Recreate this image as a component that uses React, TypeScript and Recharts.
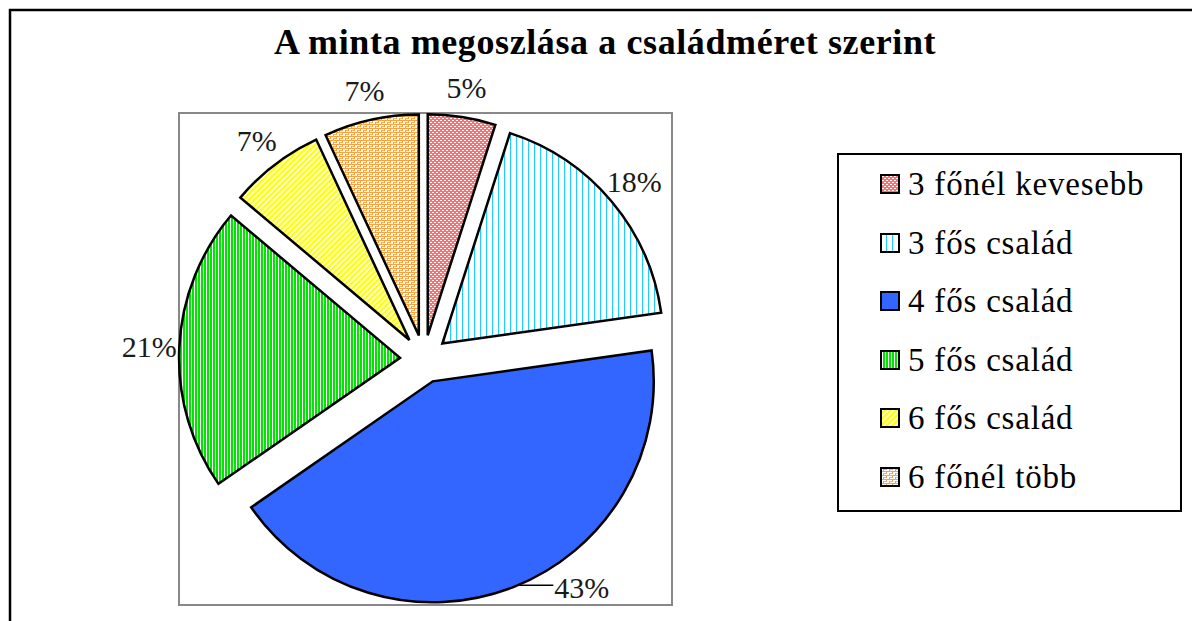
import React from 'react';
import { PieChart, Pie, Cell, Sector, Legend } from 'recharts';

const categories = ['3 főnél kevesebb', '3 fős család', '4 fős család', '5 fős család', '6 fős család', '6 főnél több'];
const shares = [5, 18, 43, 21, 7, 7];
const fills = ['url(#pRed)', 'url(#pCyan)', '#3366FF', 'url(#pGreen)', 'url(#pYellow)', 'url(#pOrange)'];
const titleText = 'A minta megoszlása a családméret szerint';

const data = categories.map((name, i) => ({ name, value: shares[i] }));

const RAD = Math.PI / 180;
const EXPLODE = 24;
const FONT = '"Liberation Serif", "Times New Roman", serif';

const renderSlice = (props: any) => {
  const { cx, cy, outerRadius, startAngle, endAngle, index, value } = props;
  const mid = props.midAngle ?? (startAngle + endAngle) / 2;
  const cos = Math.cos(-mid * RAD);
  const sin = Math.sin(-mid * RAD);
  const ecx = cx + EXPLODE * cos;
  const ecy = cy + EXPLODE * sin;
  const text = `${value}%`;
  let label;
  if (sin > 0.8) {
    const ax = ecx + outerRadius * cos;
    const ay = ecy + outerRadius * sin;
    label = (
      <g>
        <line x1={ax + 6} y1={ay - 2} x2={ax + 40} y2={ay - 2} stroke="#000" strokeWidth={1.5} />
        <text x={ax + 41} y={ay} textAnchor="start" dominantBaseline="central" fontFamily={FONT} fontSize={30} fill="#1a1a1a">
          {text}
        </text>
      </g>
    );
  } else {
    const lx = ecx + (outerRadius + 30) * cos;
    const ly = ecy + (outerRadius + 30) * sin;
    label = (
      <text x={lx} y={ly} textAnchor="middle" dominantBaseline="central" fontFamily={FONT} fontSize={30} fill="#1a1a1a">
        {text}
      </text>
    );
  }
  return (
    <g key={`slice-${index}`}>
      <Sector
        cx={ecx}
        cy={ecy}
        innerRadius={0}
        outerRadius={outerRadius}
        startAngle={startAngle}
        endAngle={endAngle}
        fill={fills[index]}
        fillOpacity={1}
        stroke="#000"
        strokeOpacity={1}
        strokeWidth={2.5}
        strokeLinejoin="miter"
      />
      {label}
    </g>
  );
};

const renderLegend = (props: any) => {
  const payload = [...(props.payload || [])].sort(
    (a: any, b: any) => categories.indexOf(a.value) - categories.indexOf(b.value)
  );
  return (
    <div style={{ position: 'relative', width: '100%', height: '100%', boxSizing: 'border-box', border: '2px solid #000', background: '#fff' }}>
      {payload.map((entry: any, i: number) => (
        <div
          key={`leg-${i}`}
          style={{ position: 'absolute', left: 41, top: 12 + i * 58.6, height: 34, display: 'flex', alignItems: 'center', whiteSpace: 'nowrap' }}
        >
          <svg width={20} height={20} style={{ display: 'block', marginRight: 8 }}>
            <rect x={1} y={1} width={18} height={18} fill={entry.color} stroke="#000" strokeWidth={2} />
          </svg>
          <span style={{ fontFamily: FONT, fontSize: 33, letterSpacing: '0.8px', lineHeight: '34px', color: '#000' }}>{entry.value}</span>
        </div>
      ))}
    </div>
  );
};

export default function App() {
  return (
    <div style={{ width: 1192, height: 621, background: '#fff' }}>
      <style>{'body{margin:0;overflow:hidden;background:#fff}'}</style>
      <PieChart width={1192} height={621} margin={{ top: 0, right: 0, bottom: 0, left: 0 }}>
        <defs>
          <pattern id="pRed" width={4} height={4} patternUnits="userSpaceOnUse">
            <rect width={4} height={4} fill="#FF7070" />
            <rect x={0} y={0} width={2} height={1} fill="#FFFFFF" />
            <rect x={2} y={2} width={2} height={1} fill="#FFFFFF" />
          </pattern>
          <pattern id="pCyan" width={6} height={6} patternUnits="userSpaceOnUse">
            <rect width={6} height={6} fill="#FFFFFF" />
            <rect x={0} y={0} width={1.2} height={6} fill="#22CCFF" />
          </pattern>
          <pattern id="pGreen" width={3} height={3} patternUnits="userSpaceOnUse">
            <rect width={3} height={3} fill="#FFFFFF" />
            <rect x={0} y={0} width={2} height={3} fill="#00E600" />
          </pattern>
          <pattern id="pYellow" width={4} height={4} patternUnits="userSpaceOnUse" patternTransform="rotate(45)">
            <rect width={4} height={4} fill="#FFFFFF" />
            <rect x={0} y={0} width={2.4} height={4} fill="#FFFF00" />
          </pattern>
          <pattern id="pOrange" width={6} height={4} patternUnits="userSpaceOnUse">
            <rect width={6} height={4} fill="#FFFFFF" />
            <rect x={0} y={0} width={6} height={1} fill="#FFA040" />
            <rect x={0} y={0} width={1} height={3} fill="#FFA040" />
            <rect x={3} y={2} width={3} height={1} fill="#FFB060" />
            <rect x={3} y={2} width={1} height={2} fill="#FFA040" />
          </pattern>
        </defs>
        <rect x={10} y={10} width={1300} height={800} fill="#fff" stroke="#000" strokeWidth={2.5} />
        <rect x={179} y={113} width={493} height={492} fill="none" stroke="#888" strokeWidth={2} />
        <text x={605} y={54} textAnchor="middle" fontFamily={FONT} fontWeight="bold" fontSize={36} letterSpacing={0.6} fill="#000">
          {titleText}
        </text>
        <Pie
          data={data}
          dataKey="value"
          nameKey="name"
          cx={424}
          cy={359}
          innerRadius={0}
          outerRadius={221}
          startAngle={90}
          endAngle={-270}
          isAnimationActive={false}
          label={renderSlice}
          labelLine={false}
          stroke="none"
        >
          {data.map((d, i) => (
            <Cell key={d.name} fill={fills[i]} fillOpacity={0} stroke="none" />
          ))}
        </Pie>
        <Legend
          layout="vertical"
          align="right"
          verticalAlign="top"
          content={renderLegend}
          wrapperStyle={{ left: 837, top: 153, width: 345, height: 359 }}
        />
      </PieChart>
    </div>
  );
}
